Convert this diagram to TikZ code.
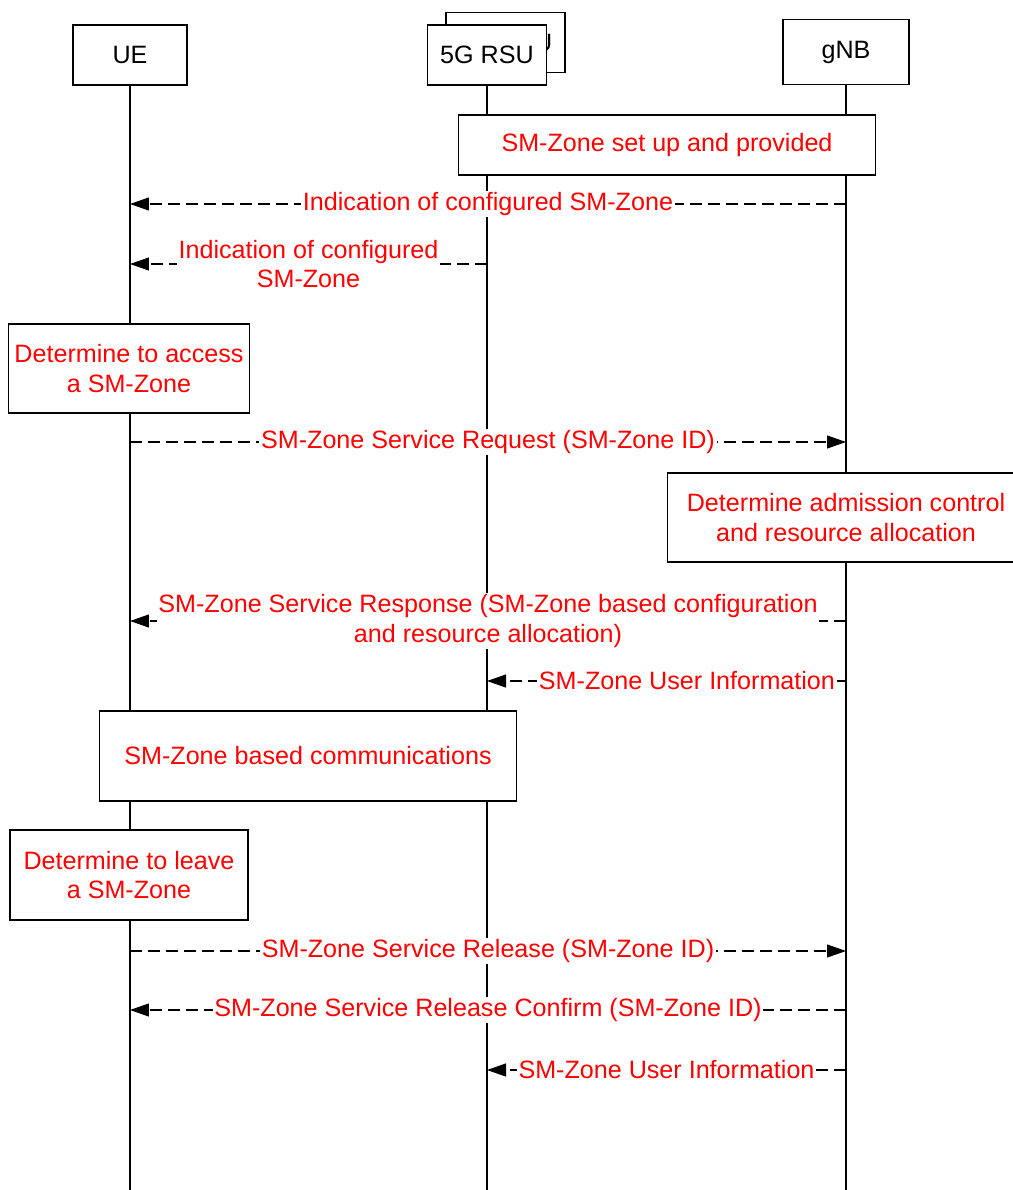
\documentclass[tikz,border=0pt]{standalone}
\usepackage{fontspec}
\setmainfont{Liberation Sans}
\usetikzlibrary{arrows.meta}

\begin{document}
\begin{tikzpicture}[x=0.02cm, y=-0.02cm, font=\fontsize{14.3}{17}\selectfont,
  hdr/.style={draw, fill=white, line width=0.6pt, minimum height=1.2cm},
  actbox/.style={draw, fill=white, line width=0.6pt, text=red, align=center, minimum height=1.78cm},
  msg/.style={fill=white, text=red, align=center, inner sep=1pt},
  sig/.style={line width=0.6pt, dash pattern=on 0.24cm off 0.12cm, -{Triangle[length=0.38cm,width=0.26cm]}}]
\useasboundingbox (0,0) rectangle (1013,1190);

% Set the lifeline heads
\node[hdr, minimum width=2.28cm] (ue) at (130,55) {UE};
\node[hdr, minimum width=2.38cm] (rsuback) at (505.5,42.5) {5G RSU};
\node[hdr, minimum width=2.38cm] (rsu) at (487,55) {5G RSU};
\node[hdr, minimum width=2.52cm, minimum height=1.3cm] (gnb) at (846,52) {gNB};

% Draw the lifelines
\coordinate (bot) at (0,1190);
\draw[line width=0.6pt] (ue.south) -- (ue |- bot);
\draw[line width=0.6pt] (rsu.south) -- (rsu |- bot);
\draw[line width=0.6pt] (gnb.south) -- (gnb |- bot);

% Insert the action boxes
\node[actbox, minimum width=8.36cm, minimum height=1.2cm] (setup) at (667,145) {SM-Zone set up and provided};
\node[actbox, minimum width=4.76cm] (access) at (129,368.5) {Determine to access\\a SM-Zone};
\node[actbox, minimum width=7.16cm] (admit) at (846,517.5) {Determine admission control\\and resource allocation};
\node[actbox, minimum width=8.36cm, minimum height=1.8cm] (comm) at (308,756) {SM-Zone based communications};
\node[actbox, minimum width=4.76cm, minimum height=1.8cm] (leave) at (129,875) {Determine to leave\\a SM-Zone};

% Draw the messages
\coordinate (m1) at (0,204);
\coordinate (m2) at (0,264);
\coordinate (m3) at (0,442);
\coordinate (m4) at (0,621);
\coordinate (m5) at (0,681);
\coordinate (m6) at (0,951);
\coordinate (m7) at (0,1010);
\coordinate (m8) at (0,1070);
\draw[sig] (gnb |- m1) -- node[msg] {Indication of configured SM-Zone} (ue |- m1);
\draw[sig] (rsu |- m2) -- node[msg] {Indication of configured\\SM-Zone} (ue |- m2);
\draw[sig] (ue |- m3) -- node[msg] {SM-Zone Service Request (SM-Zone ID)} (gnb |- m3);
\draw[sig] (gnb |- m4) -- node[msg] {SM-Zone Service Response (SM-Zone based configuration\\and resource allocation)} (ue |- m4);
\draw[sig] (gnb |- m5) -- node[msg, pos=0.443] {SM-Zone User Information} (rsu |- m5);
\draw[sig] (ue |- m6) -- node[msg] {SM-Zone Service Release (SM-Zone ID)} (gnb |- m6);
\draw[sig] (gnb |- m7) -- node[msg] {SM-Zone Service Release Confirm (SM-Zone ID)} (ue |- m7);
\draw[sig] (gnb |- m8) -- node[msg] {SM-Zone User Information} (rsu |- m8);
\end{tikzpicture}
\end{document}
